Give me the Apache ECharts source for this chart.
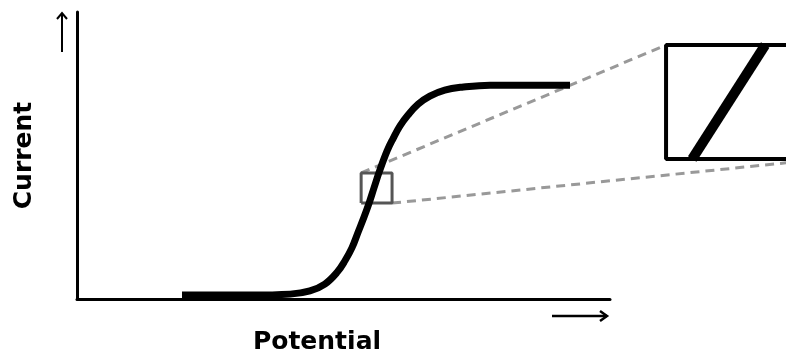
<!DOCTYPE html>
<html>
<head>
<meta charset="utf-8">
<script src="https://cdn.jsdelivr.net/npm/echarts@6/dist/echarts.min.js"></script>
<style>
  html, body { margin: 0; background: #fff; }
  #chart { width: 786px; height: 360px; }
</style>
</head>
<body>
<div id="chart"></div>
<script>
// sigmoid wave: potential (x) against current (y), both 0..100 along the drawn axes
const potential = [19.7, 32.5, 40.0, 43.7, 46.5, 48.8, 50.3, 51.6, 52.7, 53.8, 54.8, 55.7, 56.8, 58.2, 59.3, 60.6, 62.1, 64.0, 66.2, 69.0, 72.2, 77.5, 85.0, 92.5];
const current = [1.4, 1.4, 1.7, 2.8, 5.2, 9.3, 13.4, 17.9, 23.1, 28.3, 33.4, 38.6, 44.8, 51.7, 55.9, 60.3, 64.1, 67.9, 70.7, 72.8, 73.8, 74.5, 74.5, 74.5];

// small window on the steep part and the magnified inset on the right
const windowX = [53.3, 59.1];
const windowY = [34.1, 44.5];
const insetX = [110.5, 140];
const insetY = [49.3, 88.6];
const insetSlopeX = [115.4, 129.1];
const insetSlopeY = [49.3, 88.6];

const curve = potential.map((p, i) => [p, current[i]]);

const chart = echarts.init(document.getElementById('chart'));

const nameFont = {
  color: '#000',
  fontFamily: 'DejaVu Sans',
  fontWeight: 'bold',
  fontSize: 25
};

const hidden = { show: false };

// grid 0 holds the plot with its axes, grid 1 spans out to the right edge
// on the same scale so the inset can sit outside the plot
chart.setOption({
  animation: false,
  backgroundColor: '#fff',
  grid: [
    { left: 77, right: 176, top: 12, bottom: 58 },
    { left: 77, right: 0, top: 12, bottom: 58 }
  ],
  xAxis: [
    {
      type: 'value', min: 0, max: 100, gridIndex: 0,
      name: 'Potential', nameLocation: 'middle', nameGap: 31,
      nameTextStyle: Object.assign({ padding: [0, 53, 0, 0] }, nameFont),
      axisLine: { show: true, lineStyle: { color: '#000', width: 3 } },
      axisTick: hidden, axisLabel: hidden, splitLine: hidden
    },
    {
      type: 'value', min: 0, max: 133, gridIndex: 1,
      axisLine: hidden, axisTick: hidden, axisLabel: hidden, splitLine: hidden
    }
  ],
  yAxis: [
    {
      type: 'value', min: 0, max: 100, gridIndex: 0,
      name: 'Current', nameLocation: 'middle', nameGap: 40,
      nameTextStyle: nameFont,
      axisLine: { show: true, lineStyle: { color: '#000', width: 3 } },
      axisTick: hidden, axisLabel: hidden, splitLine: hidden
    },
    {
      type: 'value', min: 0, max: 100, gridIndex: 1,
      axisLine: hidden, axisTick: hidden, axisLabel: hidden, splitLine: hidden
    }
  ],
  graphic: [
    // arrows next to the axes
    { type: 'line', shape: { x1: 62, y1: 52, x2: 62, y2: 14 }, style: { stroke: '#000', lineWidth: 2 } },
    { type: 'polyline', shape: { points: [[57, 19], [62, 13], [67, 19]] }, style: { stroke: '#000', lineWidth: 2, fill: null } },
    { type: 'line', shape: { x1: 552, y1: 316, x2: 607, y2: 316 }, style: { stroke: '#000', lineWidth: 2.5 } },
    { type: 'polyline', shape: { points: [[600, 311], [607, 316], [600, 321]] }, style: { stroke: '#000', lineWidth: 2.5, fill: null } }
  ],
  series: [
    {
      name: 'guide-top',
      type: 'line', xAxisIndex: 1, yAxisIndex: 1,
      symbol: 'none', z: 1,
      lineStyle: { color: '#999', width: 3, type: [9, 6] },
      data: [[windowX[0], windowY[1]], [insetX[0], insetY[1]]]
    },
    {
      name: 'guide-bottom',
      type: 'line', xAxisIndex: 1, yAxisIndex: 1,
      clip: false,
      symbol: 'none', z: 1,
      lineStyle: { color: '#999', width: 3, type: [9, 6] },
      data: [[windowX[1], windowY[0]], [insetX[1], insetY[0]]]
    },
    {
      name: 'window',
      type: 'line', xAxisIndex: 1, yAxisIndex: 1,
      symbol: 'none', z: 2,
      lineStyle: { color: '#555', width: 3 },
      data: [
        [windowX[0], windowY[0]], [windowX[1], windowY[0]],
        [windowX[1], windowY[1]], [windowX[0], windowY[1]],
        [windowX[0], windowY[0]]
      ]
    },
    {
      name: 'wave',
      type: 'line',
      smooth: 0.4,
      symbol: 'none', z: 3,
      lineStyle: { color: '#000', width: 7 },
      data: curve
    },
    {
      name: 'inset',
      type: 'line', xAxisIndex: 1, yAxisIndex: 1,
      clip: false,
      symbol: 'none', z: 3,
      lineStyle: { color: '#000', width: 4 },
      data: [
        [insetX[1], insetY[1]], [insetX[0], insetY[1]],
        [insetX[0], insetY[0]], [insetX[1], insetY[0]]
      ]
    },
    {
      name: 'inset-slope',
      type: 'line', xAxisIndex: 1, yAxisIndex: 1,
      symbol: 'none', z: 3,
      lineStyle: { color: '#000', width: 10 },
      data: [[insetSlopeX[0], insetSlopeY[0]], [insetSlopeX[1], insetSlopeY[1]]]
    }
  ]
});

window.onresize = () => {
  chart.resize();
};
</script>
</body>
</html>
